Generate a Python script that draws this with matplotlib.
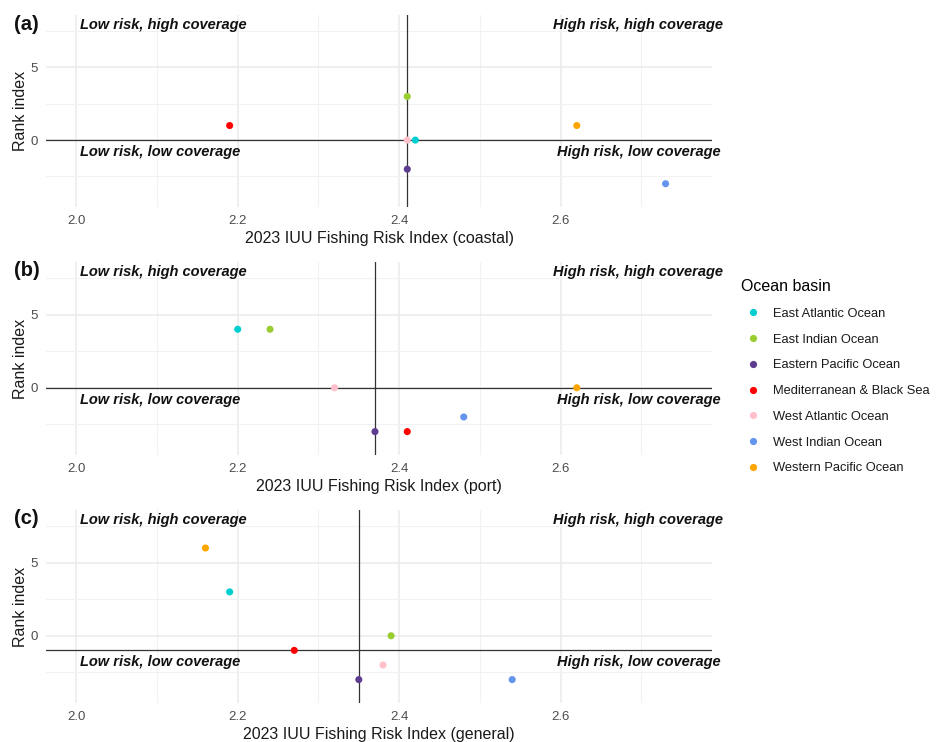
import matplotlib
matplotlib.use("Agg")
import matplotlib.pyplot as plt
from matplotlib.lines import Line2D
import numpy as np

plt.rcParams['font.family'] = ['Liberation Sans', 'DejaVu Sans']

basins = ["East Atlantic Ocean", "East Indian Ocean", "Eastern Pacific Ocean",
          "Mediterranean & Black Sea", "West Atlantic Ocean", "West Indian Ocean",
          "Western Pacific Ocean"]
colors = ["#00CED1", "#9ACD32", "#5E3C8F", "#FF0000", "#FFC0CB", "#6495ED", "#FFA500"]

# IUU risk index and rank index per basin (same order as basins)
coastal_risk = [2.42, 2.41, 2.41, 2.19, 2.41, 2.73, 2.62]
coastal_rank = [0, 3, -2, 1, 0, -3, 1]
port_risk = [2.20, 2.24, 2.37, 2.41, 2.32, 2.48, 2.62]
port_rank = [4, 4, -3, -3, 0, -2, 0]
general_risk = [2.19, 2.39, 2.35, 2.27, 2.38, 2.54, 2.16]
general_rank = [3, 0, -3, -1, -2, -3, 6]

panels = [
    ("(a)", "2023 IUU Fishing Risk Index (coastal)", coastal_risk, coastal_rank),
    ("(b)", "2023 IUU Fishing Risk Index (port)", port_risk, port_rank),
    ("(c)", "2023 IUU Fishing Risk Index (general)", general_risk, general_rank),
]

W, H = 936, 742
fig = plt.figure(figsize=(W / 100, H / 100), dpi=100)

# (top, bottom) pixel rows of each panel
rows = [(15, 207), (262, 455), (510, 703)]
left_px, right_px = 46, 712

xlim = (2.0 - 0.0375, 2.75 + 0.0375)
ylim = (-4.6, 8.6)

for (tag, xlabel, xs, ys), (top, bot) in zip(panels, rows):
    ax = fig.add_axes([left_px / W, 1 - bot / H, (right_px - left_px) / W, (bot - top) / H])
    ax.set_xlim(*xlim)
    ax.set_ylim(*ylim)
    for s in ax.spines.values():
        s.set_visible(False)
    ax.set_xticks([2.0, 2.2, 2.4, 2.6])
    ax.set_xticks([2.1, 2.3, 2.5, 2.7], minor=True)
    ax.set_yticks([0, 5])
    ax.set_yticks([-2.5, 2.5, 7.5], minor=True)
    ax.set_xticklabels(["2.0", "2.2", "2.4", "2.6"])
    ax.grid(which='major', color='#EBEBEB', lw=1.1, zorder=0)
    ax.grid(which='minor', color='#F2F2F2', lw=0.8, zorder=0)
    ax.tick_params(which='both', length=0, labelsize=9.5, labelcolor='#4D4D4D', pad=6)
    ax.set_xlabel(xlabel, fontsize=11.5, color='#1A1A1A', labelpad=3)
    ax.set_ylabel("Rank index", fontsize=11.5, color='#1A1A1A', labelpad=2)

    vx = np.median(xs)
    hy = np.median(ys)
    ax.axvline(vx, color='#333333', lw=0.9, zorder=2)
    ax.axhline(hy, color='#333333', lw=0.9, zorder=2)

    for x, y, c in zip(xs, ys, colors):
        ax.scatter(x, y, s=26, color=c, edgecolors='none', zorder=3)

    tk = dict(fontsize=10.5, fontweight='bold', fontstyle='italic', color='#111111',
              va='center', clip_on=False)
    ax.text(2.004, 7.9, "Low risk, high coverage", ha='left', **tk)
    ax.text(2.801, 7.9, "High risk, high coverage", ha='right', **tk)
    ax.text(2.004, hy - 0.82, "Low risk, low coverage", ha='left', **tk)
    ax.text(2.798, hy - 0.82, "High risk, low coverage", ha='right', **tk)

    fig.text(14 / W, 1 - (top + 9) / H, tag, fontsize=14.5, fontweight='bold',
             ha='left', va='center', color='#111111')

handles = [Line2D([], [], marker='o', ls='none', markersize=5.2, markerfacecolor=c,
                  markeredgecolor='none') for c in colors]
leg = fig.legend(handles, basins, title="Ocean basin", loc='upper left',
                 bbox_to_anchor=(736 / W, 1 - 274 / H), frameon=False,
                 fontsize=9.3, title_fontsize=11.5, labelspacing=1.06,
                 handletextpad=0.6, handlelength=1.9, borderaxespad=0)
leg._legend_box.align = "left"
for t in leg.get_texts():
    t.set_color('#1A1A1A')

fig.savefig("out.png", dpi=100, facecolor='white')
